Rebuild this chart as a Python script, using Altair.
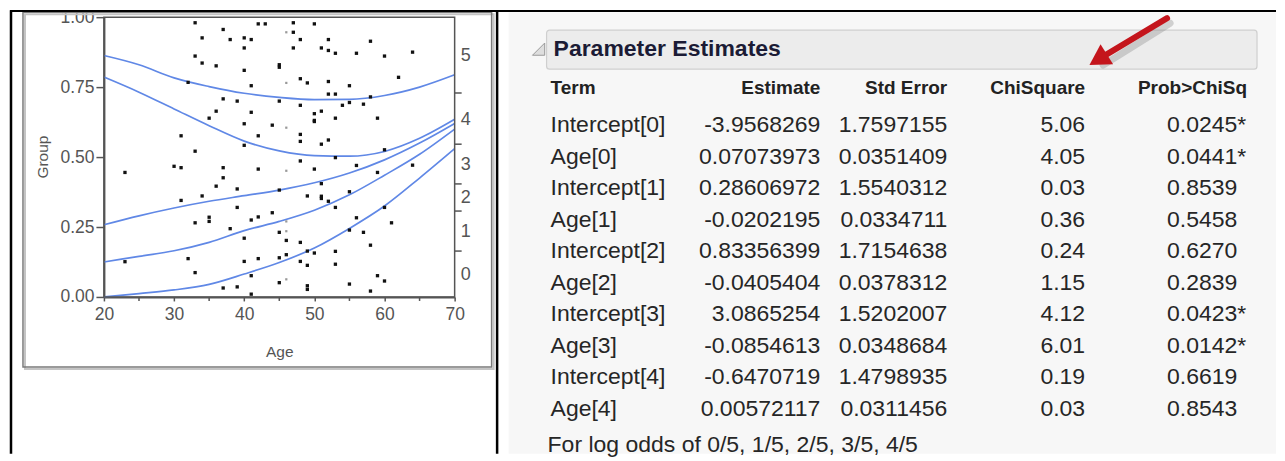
import altair as alt
import pandas as pd

# ---------------- data ----------------
ages = [33, 42, 43, 47, 50,
        37, 47,
        34, 38, 40, 41, 48, 52, 58,
        40, 47, 51, 52, 53, 56, 60, 64, 33,
        34, 36, 45, 45, 40,
        62, 48, 52, 49, 32, 41, 55,
        52, 53, 58, 37, 39, 45, 55, 57, 54, 48,
        36, 41, 51, 50, 50, 50, 53, 35, 59, 40, 44,
        31, 42, 48, 48, 52, 51, 40, 33, 60,
        53, 48, 56, 64, 37, 42, 50, 31, 30, 23, 59,
        37, 51, 36, 55, 45, 39, 51, 51, 34, 49, 31, 52,
        39, 53, 60, 44, 42, 41, 35, 35, 33, 56, 61,
        38, 55, 45, 57, 40, 48, 46, 58,
        49, 50, 53, 45, 46, 32, 42, 23, 40, 48, 49, 53,
        33, 41, 59, 60, 45, 55, 49, 49, 37, 39, 58, 41]
groups = [0.980, 0.976, 0.976, 0.980, 0.976,
          0.956, 0.946,
          0.926, 0.920, 0.926, 0.920, 0.920, 0.920, 0.914,
          0.890, 0.890, 0.890, 0.881, 0.871, 0.871, 0.861, 0.875, 0.861,
          0.836, 0.826, 0.830, 0.821, 0.810,
          0.785, 0.780, 0.770, 0.765, 0.767, 0.755, 0.755,
          0.725, 0.725, 0.715, 0.708, 0.700, 0.700, 0.695, 0.689, 0.685, 0.685,
          0.664, 0.660, 0.664, 0.655, 0.631, 0.627, 0.639, 0.639, 0.639, 0.619, 0.614,
          0.576, 0.576, 0.581, 0.556, 0.561, 0.546, 0.542, 0.521, 0.526,
          0.498, 0.486, 0.470, 0.471, 0.462, 0.457, 0.457, 0.462, 0.467, 0.445, 0.445,
          0.426, 0.405, 0.396, 0.376, 0.382, 0.386, 0.360, 0.352, 0.361, 0.361, 0.345, 0.342,
          0.320, 0.320, 0.320, 0.301, 0.286, 0.275, 0.285, 0.270, 0.265, 0.283, 0.265,
          0.244, 0.239, 0.231, 0.231, 0.210, 0.195, 0.202, 0.185,
          0.164, 0.157, 0.163, 0.140, 0.151, 0.137, 0.137, 0.126, 0.127, 0.127, 0.113, 0.117,
          0.087, 0.076, 0.076, 0.057, 0.051, 0.046, 0.040, 0.027, 0.032, 0.036, 0.021, 0.010]
faint_ages = [46, 46, 46, 46, 46, 46, 46]
faint_groups = [0.946, 0.765, 0.605, 0.451, 0.270, 0.235, 0.063]

curve_ages = [20, 25, 30, 35, 40, 45, 50, 55, 60, 65, 70]
curve_1 = [0.863, 0.830, 0.783, 0.752, 0.728, 0.713, 0.705, 0.706, 0.720, 0.750, 0.794]
curve_2 = [0.786, 0.732, 0.672, 0.612, 0.557, 0.522, 0.505, 0.503, 0.520, 0.567, 0.635]
curve_3 = [0.258, 0.290, 0.318, 0.342, 0.362, 0.382, 0.408, 0.443, 0.490, 0.550, 0.620]
curve_4 = [0.125, 0.145, 0.165, 0.195, 0.237, 0.270, 0.310, 0.365, 0.435, 0.510, 0.600]
curve_5 = [0.000, 0.012, 0.025, 0.045, 0.082, 0.123, 0.175, 0.245, 0.325, 0.425, 0.530]

x_ticks = [20, 30, 40, 50, 60, 70]
x_minor = [25, 35, 45, 55, 65]
y_ticks = [0.0, 0.25, 0.5, 0.75, 1.0]
right_labels = ["0", "1", "2", "3", "4", "5"]
right_label_pos = [0.078, 0.232, 0.352, 0.472, 0.634, 0.862]
right_ticks = [0.164, 0.307, 0.404, 0.546, 0.729]

panel_title = "Parameter Estimates"
headers = ["Term", "Estimate", "Std Error", "ChiSquare", "Prob>ChiSq"]
terms = ["Intercept[0]", "Age[0]", "Intercept[1]", "Age[1]", "Intercept[2]",
         "Age[2]", "Intercept[3]", "Age[3]", "Intercept[4]", "Age[4]"]
estimates = ["-3.9568269", "0.07073973", "0.28606972", "-0.0202195", "0.83356399",
             "-0.0405404", "3.0865254", "-0.0854613", "-0.6470719", "0.00572117"]
std_errors = ["1.7597155", "0.0351409", "1.5540312", "0.0334711", "1.7154638",
              "0.0378312", "1.5202007", "0.0348684", "1.4798935", "0.0311456"]
chi_squares = ["5.06", "4.05", "0.03", "0.36", "0.24", "1.15", "4.12", "6.01", "0.19", "0.03"]
probs = ["0.0245*", "0.0441*", "0.8539", "0.5458", "0.6270",
         "0.2839", "0.0423*", "0.0142*", "0.6619", "0.8543"]
footer = "For log odds of 0/5, 1/5, 2/5, 3/5, 4/5"

# ---------------- layout (pixels, relative to the plot area origin) ----------------
OX, OY = 104, 15          # page position of the plot area's top-left corner
W, H = 351, 280           # plot area


def rx(v):
    return v - OX


def ry(v):
    return v - OY


FONT = "Liberation Sans"
AXC = "#555555"
BLUE = "#6088e6"

one = pd.DataFrame({"k": [0]})


def box(x1, y1, x2, y2, **kw):
    return alt.Chart(one).mark_rect(**kw).encode(
        x=alt.value(x1), x2=alt.value(x2), y=alt.value(y1), y2=alt.value(y2))


def line(x1, y1, x2, y2, **kw):
    return alt.Chart(one).mark_rule(**kw).encode(
        x=alt.value(x1), x2=alt.value(x2), y=alt.value(y1), y2=alt.value(y2))


def label(txt, x, y, **kw):
    return alt.Chart(pd.DataFrame({"t": [txt]})).mark_text(font=FONT, **kw).encode(
        x=alt.value(x), y=alt.value(y), text="t:N")


# ---------------- decorations ----------------
anchor = box(rx(8), ry(8), rx(1277), ry(452), opacity=0)
panel_bg = box(rx(509), ry(10), rx(1277), ry(452), color="#f7f7f7")
frame_shadow = box(-79, -3, 390, 352, fillOpacity=0, stroke="#c4c4c4", strokeWidth=2)
frame = box(-81, -5, 388, 350, fillOpacity=0, stroke="#7a7a7a", strokeWidth=1.5)
border_left = line(rx(11), ry(8), rx(11), ry(452), color="black", strokeWidth=2.5)
border_top = line(rx(10), ry(8.8), rx(1277), ry(8.8), color="black", strokeWidth=2)
border_mid = line(rx(497.5), ry(8), rx(497.5), ry(452), color="black", strokeWidth=2.5)

# ---------------- scatter plot ----------------
xs = alt.Scale(domain=[20, 70], nice=False, zero=False)
ys = alt.Scale(domain=[0, 1], nice=False, zero=False)

pts_df = pd.DataFrame({"Age": ages, "Group": groups})
faint_df = pd.DataFrame({"Age": faint_ages, "Group": faint_groups})
curve_rows = []
for cid, vals in enumerate([curve_1, curve_2, curve_3, curve_4, curve_5]):
    for a, v in zip(curve_ages, vals):
        curve_rows.append({"Age": a, "P": v, "c": cid})
curve_df = pd.DataFrame(curve_rows)

points = alt.Chart(pts_df).mark_square(size=11, color="#111111", opacity=1).encode(
    x=alt.X("Age:Q", scale=xs, axis=alt.Axis(
        values=x_ticks, title=None, grid=False, labelFont=FONT, labelFontSize=17.5,
        labelColor=AXC, tickColor=AXC, tickSize=4, tickWidth=1.5, domainColor=AXC,
        domainWidth=2, labelPadding=5, labelFlush=False, labelOverlap=False)),
    y=alt.Y("Group:Q", scale=ys, axis=alt.Axis(
        values=y_ticks, format=".2f", title=None, grid=False, labelFont=FONT,
        labelFontSize=17.5, labelColor=AXC, tickColor=AXC, tickSize=8, tickWidth=1.5,
        domainColor=AXC, domainWidth=2, labelPadding=2, labelFlush=False,
        labelOverlap=False)),
)
faint = alt.Chart(faint_df).mark_square(size=5, color="#999999", opacity=1).encode(
    x=alt.X("Age:Q", scale=xs), y=alt.Y("Group:Q", scale=ys))
curves = alt.Chart(curve_df).mark_line(color=BLUE, strokeWidth=1.7, interpolate="monotone").encode(
    x=alt.X("Age:Q", scale=xs), y=alt.Y("P:Q", scale=ys), detail="c:N")

plot_box = box(0, 0, W, H, fillOpacity=0, stroke=AXC, strokeWidth=1.5)
minor = alt.Chart(pd.DataFrame({"m": x_minor})).mark_rule(color=AXC, strokeWidth=1.5).encode(
    x=alt.X("m:Q", scale=xs), y=alt.value(H), y2=alt.value(H + 4))
rticks = alt.Chart(pd.DataFrame({"p": right_ticks})).mark_rule(color=AXC, strokeWidth=1.5).encode(
    y=alt.Y("p:Q", scale=ys), x=alt.value(W), x2=alt.value(W + 7))
rlabels = alt.Chart(pd.DataFrame({"p": right_label_pos, "l": right_labels})).mark_text(
    font=FONT, fontSize=18, color=AXC, align="center", baseline="middle").encode(
    y=alt.Y("p:Q", scale=ys), x=alt.value(W + 11), text="l:N")
title_group = label("Group", rx(43), ry(155), fontSize=15.5, color=AXC, angle=270,
                    align="center", baseline="middle")
title_age = label("Age", rx(280), ry(350), fontSize=15.5, color=AXC,
                  align="center", baseline="middle")

scatter = alt.layer(curves, points, faint, minor, rticks, rlabels, plot_box)

# ---------------- parameter table ----------------
tab = pd.DataFrame({"row": list(range(len(terms))), "term": terms, "est": estimates,
                    "se": std_errors, "chi": chi_squares, "prob": probs})
rs = alt.Scale(domain=[0, 9], range=[ry(123), ry(407)])
TXT = "#262626"


def col(field, x, align):
    return alt.Chart(tab).mark_text(font=FONT, fontSize=23, color=TXT, align=align,
                                    baseline="middle").encode(
        x=alt.value(x), y=alt.Y("row:Q", scale=rs, axis=None), text=f"{field}:N")


table = alt.layer(
    col("term", rx(551), "left"),
    col("est", rx(821), "right"),
    col("se", rx(948), "right"),
    col("chi", rx(1086), "right"),
    col("prob", rx(1168), "left"),
)

head_box = box(rx(547), ry(28), rx(1258), ry(67), color="#ececec", stroke="#cfcfcf",
               strokeWidth=1.2, cornerRadius=3)
tri = alt.Chart(one).mark_point(shape="M 1 -1 L 1 1 L -1 1 Z", filled=True, fill="#dedede",
                                stroke="#9a9a9a", strokeWidth=1, size=150, opacity=1).encode(
    x=alt.value(rx(539)), y=alt.value(ry(47)))
ttl = label(panel_title, rx(554), ry(47), fontSize=23, fontWeight="bold", color="#1b1b35",
            align="left", baseline="middle")
hdr_aligns = ["left", "right", "right", "right", "right"]
hdr_x = [551, 821, 948, 1086, 1248]
hdr_layers = [label(h, rx(x), ry(86), fontSize=19, fontWeight="bold", color="#222222",
                    align=a, baseline="middle")
              for h, x, a in zip(headers, hdr_x, hdr_aligns)]
foot = label(footer, rx(548), ry(443), fontSize=23, color=TXT, align="left", baseline="middle")

arrow_shadow = line(rx(1171), ry(21), rx(1104), ry(63), color="#777777", strokeWidth=7,
                    opacity=0.3, strokeCap="round")
arrow_shaft = line(rx(1168), ry(16), rx(1103), ry(55), color="#c4151c", strokeWidth=6,
                   strokeCap="round")
arrow_head = alt.Chart(one).mark_point(shape="triangle-up", filled=True, color="#c4151c",
                                       size=560, angle=238, opacity=1).encode(
    x=alt.value(rx(1099)), y=alt.value(ry(57.5)))

chart = alt.layer(
    anchor, panel_bg, frame_shadow, frame, border_left, border_top, border_mid,
    title_group, title_age,
    head_box, tri, ttl, *hdr_layers, foot, arrow_shadow, arrow_shaft, arrow_head,
    scatter, table,
).resolve_scale(y="independent").properties(
    width=W, height=H, padding=0, background="white"
).configure_view(strokeWidth=0)

chart.save("out.html", embed_options={"renderer": "svg", "actions": False})
